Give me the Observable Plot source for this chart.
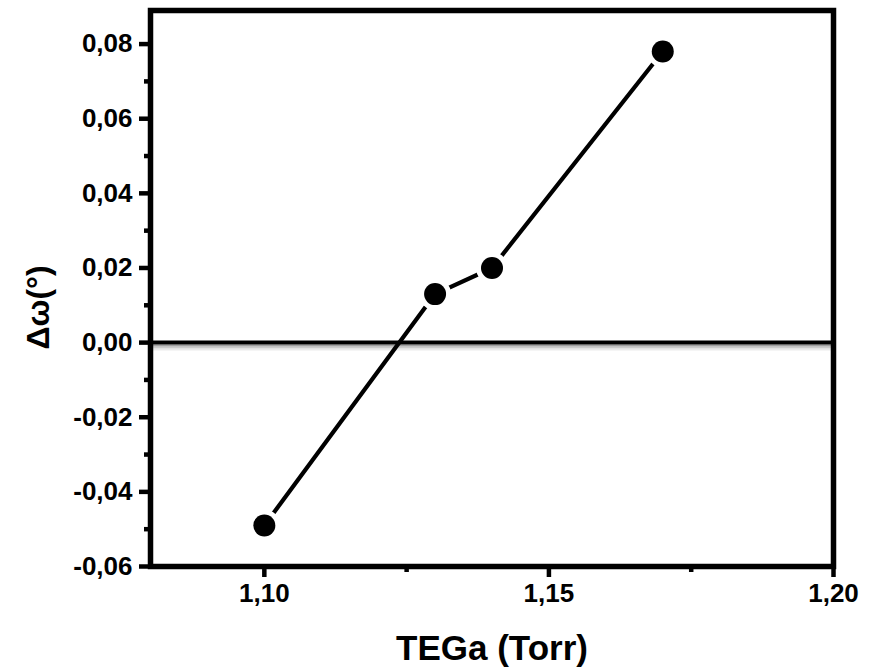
<!DOCTYPE html>
<html>
<head>
<meta charset="utf-8">
<script src="https://cdn.jsdelivr.net/npm/d3@7"></script>
<script src="https://cdn.jsdelivr.net/npm/@observablehq/plot@0.6"></script>
<style>
  html, body { margin: 0; padding: 0; background: #fff; }
  #chart svg { display: block; }
</style>
</head>
<body>
<div id="chart"></div>
<script>
// Data
const tegaTorr = [1.10, 1.13, 1.14, 1.17];
const deltaOmega = [-0.049, 0.013, 0.020, 0.078];
const xTicks = [1.10, 1.15, 1.20];
const xMinorTicks = [1.125, 1.175];
const yTicks = [-0.06, -0.04, -0.02, 0.00, 0.02, 0.04, 0.06, 0.08];
const yMinorTicks = [-0.05, -0.03, -0.01, 0.01, 0.03, 0.05, 0.07];
const xLabel = "TEGa (Torr)";
const yLabel = "Δω(°)";

const data = tegaTorr.map((x, i) => ({x, y: deltaOmega[i]}));
const fmt = d3.format(".2f");
const comma = d => fmt(d).replace(".", ",").replace("\u2212", "-");

const font = "Liberation Sans, Arial, sans-serif";

const chart = Plot.plot({
  width: 876,
  height: 670,
  marginLeft: 150,
  marginRight: 43,
  marginTop: 10,
  marginBottom: 104,
  style: {fontFamily: font, background: "#fff", color: "#000", fontSize: "26px", fontWeight: "bold"},
  x: {domain: [1.08, 1.20]},
  y: {domain: [-0.06, 0.089]},
  marks: [
    // soft grey shadow under the zero line
    Plot.ruleY([0], {stroke: "#777", strokeWidth: 2, dy: 3, strokeOpacity: 0.7}),
    Plot.ruleY([0], {stroke: "#aaa", strokeWidth: 2, dy: 5, strokeOpacity: 0.6}),
    Plot.ruleY([0], {stroke: "#ddd", strokeWidth: 2, dy: 7, strokeOpacity: 0.6}),
    Plot.ruleY([0], {stroke: "#000", strokeWidth: 4}),
    Plot.line(data, {x: "x", y: "y", stroke: "#000", strokeWidth: 4.2}),
    Plot.dot(data, {x: "x", y: "y", r: 16, fill: "#fff", stroke: "none"}),
    Plot.dot(data, {x: "x", y: "y", r: 11, fill: "#000", stroke: "none"}),
    Plot.frame({stroke: "#000", strokeWidth: 5.5}),
    Plot.axisX(xTicks, {tickSize: 11, strokeWidth: 4.5, tickPadding: 6, tickFormat: comma, label: null}),
    Plot.axisX(xMinorTicks, {tickSize: 6, strokeWidth: 4.5, tickFormat: () => "", label: null}),
    Plot.axisY(yTicks, {tickSize: 11, strokeWidth: 4.5, tickPadding: 7, tickFormat: comma, label: null}),
    Plot.axisY(yMinorTicks, {tickSize: 6, strokeWidth: 4.5, tickFormat: () => "", label: null}),
    Plot.text([xLabel], {frameAnchor: "bottom", dy: 82, lineAnchor: "middle", textAnchor: "middle",
      fontSize: 35, fontWeight: "bold", fill: "#000"}),
    Plot.text([yLabel], {frameAnchor: "left", dx: -112, dy: 19, lineAnchor: "middle", textAnchor: "middle",
      rotate: -90, fontSize: 32, fontWeight: "bold", fill: "#000"})
  ]
});

// force stroke widths with inline styles (style beats attributes)
function forceWidth(sel, w) {
  chart.querySelectorAll(sel).forEach(g => {
    g.style.strokeWidth = w + "px";
    g.querySelectorAll("*").forEach(el => { el.style.strokeWidth = w + "px"; });
  });
}
forceWidth('[aria-label="frame"]', 5.5);
forceWidth('[aria-label="x-axis tick"]', 4.5);
forceWidth('[aria-label="y-axis tick"]', 4.5);

document.getElementById("chart").appendChild(chart);
</script>
</body>
</html>
